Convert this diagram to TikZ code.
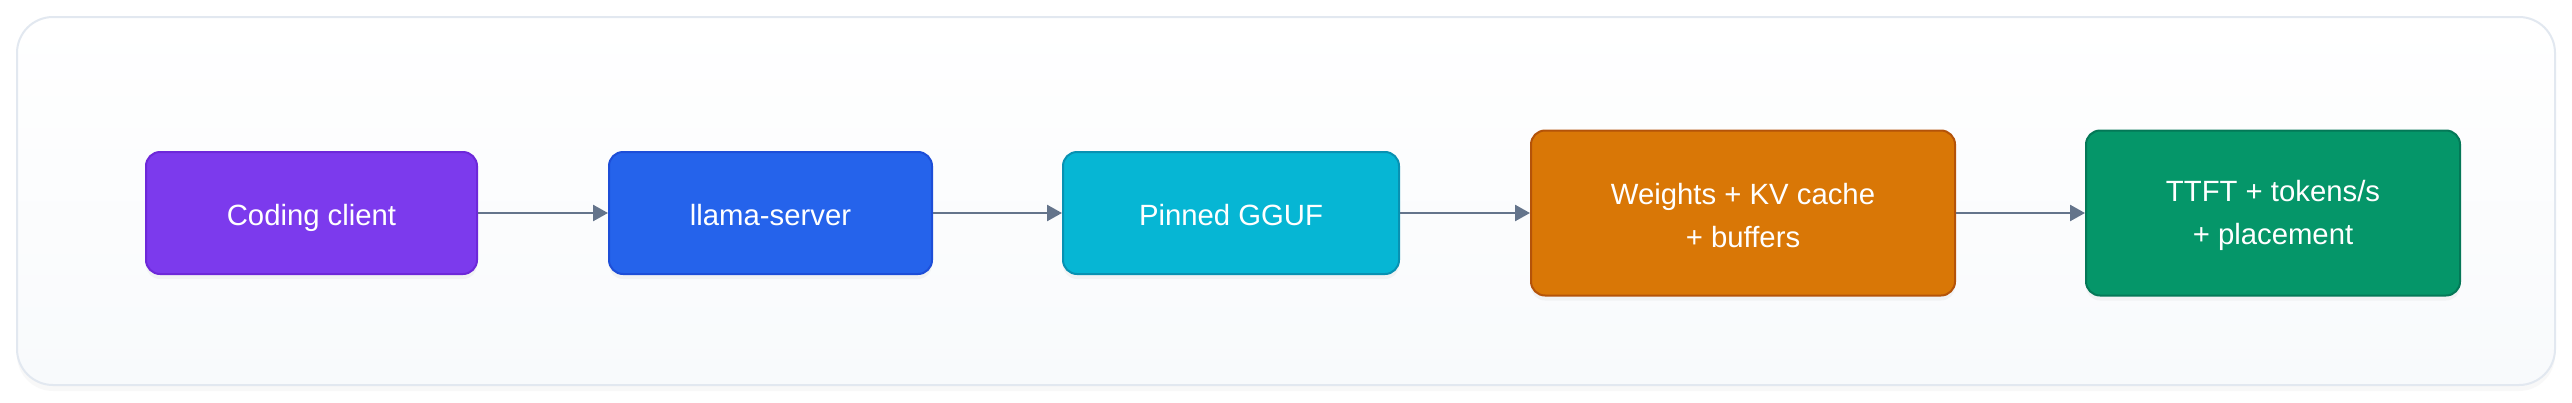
\documentclass[tikz,border=0pt]{standalone}
\usepackage{fontspec}
\setmainfont{Liberation Sans}
\usetikzlibrary{arrows.meta,shadows}
\definecolor{outerbg}{HTML}{F8FAFC}
\definecolor{outerline}{HTML}{E2E8F0}
\definecolor{arrowc}{HTML}{64748B}
\definecolor{purpf}{HTML}{7C3AED}\definecolor{purpd}{HTML}{6D28D9}
\definecolor{bluef}{HTML}{2563EB}\definecolor{blued}{HTML}{1D4ED8}
\definecolor{cyanf}{HTML}{06B6D4}\definecolor{cyand}{HTML}{0891B2}
\definecolor{ambf}{HTML}{D97706}\definecolor{ambd}{HTML}{B45309}
\definecolor{emef}{HTML}{059669}\definecolor{emed}{HTML}{047857}
\tikzset{
  stepbox/.style={rectangle, rounded corners=14pt, line width=2pt, inner sep=0pt,
    drop shadow={opacity=0.07, shadow xshift=0pt, shadow yshift=-5pt}},
  lbl/.style={text=white, font=\fontsize{29.3pt}{43pt}\selectfont, align=center, inner sep=0pt},
  lblone/.style={lbl, text height=21.4pt, text depth=6.2pt, yshift=-5pt},
  lbltwo/.style={lbl, yshift=-2.5pt},
  flow/.style={draw=arrowc, line width=2.5pt, -{Triangle[length=15pt,width=16pt]}},
}
\begin{document}
\begin{tikzpicture}[x=1pt,y=-1pt]
\useasboundingbox (0,0) rectangle (2572,402);
\fill[white] (0,0) rectangle (2572,402);
\node[draw=outerline, line width=2pt, rounded corners=36pt, top color=white, bottom color=outerbg,
  minimum width=2538pt, minimum height=368pt, inner sep=0pt,
  drop shadow={opacity=0.05, shadow xshift=0pt, shadow yshift=-6pt}] (frame) at (1286,201) {};
\node[stepbox, fill=purpf, draw=purpd, minimum width=331pt, minimum height=122pt] (client) at (311.5,213) {};
\node[stepbox, fill=bluef, draw=blued, minimum width=323pt, minimum height=122pt] (server) at (770.5,213) {};
\node[stepbox, fill=cyanf, draw=cyand, minimum width=336pt, minimum height=122pt] (gguf) at (1231,213) {};
\node[stepbox, fill=ambf, draw=ambd, minimum width=424pt, minimum height=165pt] (weights) at (1743,213) {};
\node[stepbox, fill=emef, draw=emed, minimum width=374pt, minimum height=165pt] (ttft) at (2273,213) {};
\node[lblone] (clientT) at (client) {Coding client};
\node[lblone] (serverT) at (server) {llama-server};
\node[lblone] (ggufT) at (gguf) {Pinned GGUF};
\node[lbltwo] (weightsT) at (weights) {Weights + KV cache\\+ buffers};
\node[lbltwo] (ttftT) at (ttft) {TTFT + tokens/s\\+ placement};
\draw[flow] (client) -- (server);
\draw[flow] (server) -- (gguf);
\draw[flow] (gguf) -- (weights);
\draw[flow] (weights) -- (ttft);
\end{tikzpicture}
\end{document}
